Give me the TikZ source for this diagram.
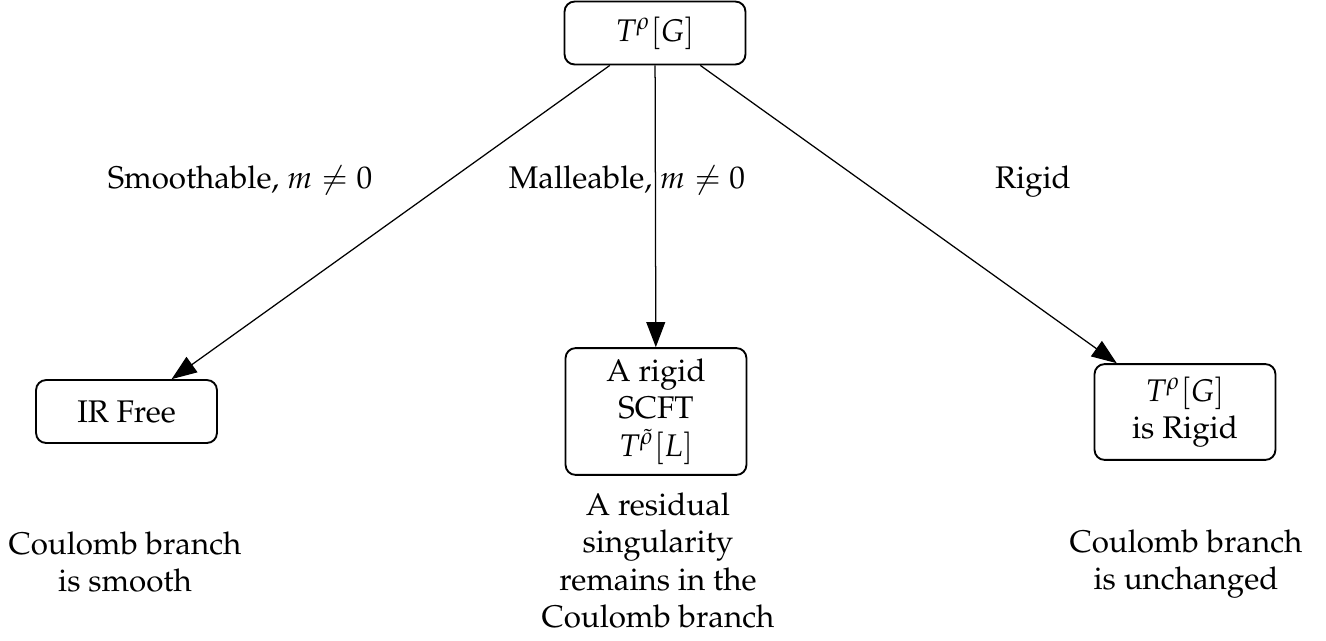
\documentclass[tikz,border=0pt]{standalone}
\usepackage[T1]{fontenc}
\usepackage{mathpazo}
\usetikzlibrary{arrows.meta}
\begin{document}
\begin{tikzpicture}[x=0.3195pt,y=-0.3195pt,
  box/.style={draw,line width=0.6pt,rounded corners=3.2pt,align=center,
    minimum width=57.8pt,minimum height=20.1pt,inner sep=3.33pt},
  lab/.style={inner sep=0pt,anchor=base},
  txt/.style={inner sep=0pt,anchor=north,align=center},
  conn/.style={line width=0.4pt,-{Triangle[length=8pt,width=6pt]}}]
\useasboundingbox (0,0) rectangle (1326,640);
\node[box] (top) at (655,33) {$T^{\rho}[G]$};
\node[box] (ir) at (126.5,411.5) {IR Free};
\node[box] (mid) at (656,411.5) {A rigid\\SCFT\\$T^{\tilde\rho}[L]$};
\node[box,minimum height=30.6pt] (rig) at (1185,412) {$T^{\rho}[G]$\\is Rigid};
\draw[conn] (top) -- (ir);
\draw[conn] (top) -- (mid);
\draw[conn] (top) -- (rig);
\node[lab] (l1) at (240,188) {Smoothable, $m\neq 0$};
\node[lab] (l2) at (627,188) {Malleable, $m\neq 0$};
\node[lab] (l3) at (1033,188) {Rigid};
\node[txt] (t1) at (125,531) {Coulomb branch\\is smooth};
\node[txt] (t2) at (658,492) {A residual\\singularity\\remains in the\\Coulomb branch};
\node[txt] (t3) at (1186,529) {Coulomb branch\\is unchanged};
\end{tikzpicture}
\end{document}
